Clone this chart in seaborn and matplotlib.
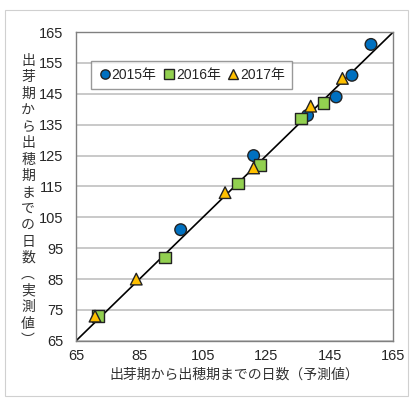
import pandas as pd
import matplotlib.pyplot as plt
import seaborn as sns
from matplotlib.patches import Rectangle

# predicted (x) vs observed (y) days from emergence to heading
pred_2015 = [158, 152, 147, 138, 121, 98]
obs_2015 = [161, 151, 144, 138, 125, 101]
pred_2016 = [143, 136, 123, 116, 93, 72]
obs_2016 = [142, 137, 122, 116, 92, 73]
pred_2017 = [149, 139, 121, 112, 84, 71]
obs_2017 = [150, 141, 121, 113, 85, 73]

years = ["2015年", "2016年", "2017年"]
ticks = [65, 85, 105, 125, 145, 165]
yticks = [65, 75, 85, 95, 105, 115, 125, 135, 145, 155, 165]

df = pd.concat([
    pd.DataFrame({"pred": pred_2015, "obs": obs_2015, "year": years[0]}),
    pd.DataFrame({"pred": pred_2016, "obs": obs_2016, "year": years[1]}),
    pd.DataFrame({"pred": pred_2017, "obs": obs_2017, "year": years[2]}),
])

sns.set_style("white")
plt.rcParams['font.family'] = ['Liberation Sans', 'Noto Sans CJK JP', 'DejaVu Sans']

fig = plt.figure(figsize=(4.13, 4.01), dpi=100)
ax = fig.add_axes([0.184, 0.150, 0.768, 0.770])
fig.patches.append(Rectangle((0.012, 0.012), 0.976, 0.964, transform=fig.transFigure,
                             fill=False, edgecolor="#d0d0d0", lw=0.8))

ax.plot([65, 165], [65, 165], color="black", lw=1.2, zorder=2)
sns.scatterplot(data=df, x="pred", y="obs", hue="year", style="year",
                palette={"2015年": "#0070c0", "2016年": "#92d050", "2017年": "#ffc000"},
                markers={"2015年": "o", "2016年": "s", "2017年": "^"},
                s=70, edgecolor="#222222", linewidth=1.0, ax=ax, zorder=3)

ax.set_xlim(65, 165)
ax.set_ylim(65, 165)
ax.set_xticks(ticks)
ax.set_yticks(yticks)
ax.yaxis.grid(True, color="#c0c0c0", lw=1.2)
ax.xaxis.grid(False)
for sp in ax.spines.values():
    sp.set_color("#808080")
    sp.set_linewidth(1.0)
ax.tick_params(axis="x", direction="in", length=4, color="#808080", labelsize=10.5, pad=6)
ax.tick_params(axis="y", length=0, labelsize=10.5, pad=9)

ax.set_xlabel("出芽期から出穂期までの日数（予測値）", fontsize=10, color="#333333", labelpad=3,
              family=['Noto Sans CJK JP'])
ax.set_ylabel("")
ylab = "出芽期から出穂期までの日数︵実測値︶"
fig.text(0.068, 0.50, "\n".join(ylab), ha="center", va="center", fontsize=10,
         color="#333333", linespacing=1.22, family=['Noto Sans CJK JP'])

leg = ax.legend(loc="upper left", bbox_to_anchor=(0.025, 0.93), ncol=3, frameon=True,
                fontsize=10, handletextpad=0.0, columnspacing=0.4, borderpad=0.5,
                handlelength=1.0, markerscale=0.8, fancybox=False)
leg.get_frame().set_edgecolor("#808080")
leg.get_frame().set_linewidth(1.0)

plt.savefig("out.png", dpi=100)
